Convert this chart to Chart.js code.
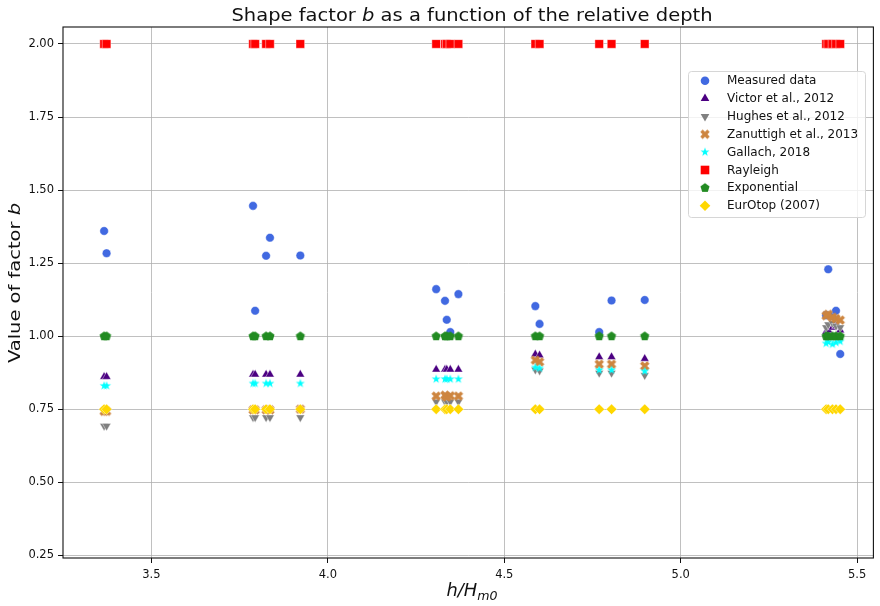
<!DOCTYPE html>
<html lang="en">
<head>
<meta charset="UTF-8">
<title>Shape factor b as a function of the relative depth</title>
<script src="https://cdn.jsdelivr.net/npm/chart.js"></script>
<style>
  html, body { margin: 0; padding: 0; background: #fff; }
  #wrap { position: relative; width: 880px; height: 606px; }
</style>
</head>
<body>
<div id="wrap"><canvas id="shapePlot"></canvas></div>
<script>
// relative depth h/Hm0 of each test
const relDepth = [3.366, 3.373, 3.788, 3.794, 3.825, 3.836, 3.922, 4.307, 4.332, 4.337, 4.347, 4.370,
                  4.588, 4.600, 4.769, 4.804, 4.898, 5.412, 5.418, 5.430, 5.440, 5.452];

// shape factor b per method, same order as relDepth
const measured  = [1.360, 1.284, 1.446, 1.087, 1.275, 1.337, 1.276, 1.161, 1.121, 1.056, 1.014, 1.144,
                   1.103, 1.042, 1.014, 1.122, 1.124, 1.072, 1.229, 1.070, 1.087, 0.939];
const victor    = [0.861, 0.861, 0.869, 0.869, 0.869, 0.869, 0.869, 0.886, 0.886, 0.886, 0.886, 0.886,
                   0.938, 0.935, 0.929, 0.929, 0.923, 1.015, 1.020, 1.030, 1.035, 1.020];
const hughes    = [0.693, 0.693, 0.722, 0.722, 0.722, 0.722, 0.722, 0.776, 0.776, 0.776, 0.776, 0.776,
                   0.885, 0.882, 0.874, 0.874, 0.866, 1.030, 1.040, 1.045, 1.035, 1.030];
const zanuttigh = [0.743, 0.743, 0.748, 0.748, 0.748, 0.748, 0.750, 0.795, 0.798, 0.792, 0.796, 0.795,
                   0.918, 0.912, 0.904, 0.904, 0.898, 1.070, 1.075, 1.065, 1.060, 1.055];
const gallach   = [0.830, 0.830, 0.838, 0.838, 0.838, 0.838, 0.838, 0.853, 0.853, 0.853, 0.853, 0.853,
                   0.893, 0.890, 0.884, 0.884, 0.880, 0.975, 0.980, 0.972, 0.978, 0.982];
const rayleigh  = [2.0, 2.0, 2.0, 2.0, 2.0, 2.0, 2.0, 2.0, 2.0, 2.0, 2.0, 2.0,
                   2.0, 2.0, 2.0, 2.0, 2.0, 2.0, 2.0, 2.0, 2.0, 2.0];
const exponential = [1.0, 1.0, 1.0, 1.0, 1.0, 1.0, 1.0, 1.0, 1.0, 1.0, 1.0, 1.0,
                     1.0, 1.0, 1.0, 1.0, 1.0, 1.0, 1.0, 1.0, 1.0, 1.0];
const eurotop   = [0.75, 0.75, 0.75, 0.75, 0.75, 0.75, 0.75, 0.75, 0.75, 0.75, 0.75, 0.75,
                   0.75, 0.75, 0.75, 0.75, 0.75, 0.75, 0.75, 0.75, 0.75, 0.75];

const seriesNames = ['Measured data', 'Victor et al., 2012', 'Hughes et al., 2012', 'Zanuttigh et al., 2013',
                     'Gallach, 2018', 'Rayleigh', 'Exponential', 'EurOtop (2007)'];
const seriesValues = [measured, victor, hughes, zanuttigh, gallach, rayleigh, exponential, eurotop];
const seriesColors = ['#4169e1', '#4b0082', '#808080', '#cd853f', '#00ffff', '#ff0000', '#228b22', '#ffd700'];

const xTickValues = [3.5, 4.0, 4.5, 5.0, 5.5];
const yTickValues = [0.25, 0.50, 0.75, 1.00, 1.25, 1.50, 1.75, 2.00];

// little canvases for the marker shapes Chart.js does not have (filled star, pentagon, X)
function shapeCanvas(size, color, pts) {
    const c = document.createElement('canvas');
    c.width = c.height = size;
    const g = c.getContext('2d');
    g.translate(size / 2, size / 2);
    g.fillStyle = color;
    g.beginPath();
    pts.forEach((p, i) => i ? g.lineTo(p[0], p[1]) : g.moveTo(p[0], p[1]));
    g.closePath();
    g.fill();
    return c;
}
function starPts(R) {
    const pts = [];
    for (let k = 0; k < 10; k++) {
        const a = (-90 + k * 36) * Math.PI / 180, r = k % 2 ? R * 0.382 : R;
        pts.push([r * Math.cos(a), r * Math.sin(a)]);
    }
    return pts;
}
function pentPts(R) {
    const pts = [];
    for (let k = 0; k < 5; k++) {
        const a = (-90 + k * 72) * Math.PI / 180;
        pts.push([R * Math.cos(a), R * Math.sin(a)]);
    }
    return pts;
}
function xPts(L, h) {
    const plus = [[-h, -L], [h, -L], [h, -h], [L, -h], [L, h], [h, h], [h, L], [-h, L], [-h, h], [-L, h], [-L, -h], [-h, -h]];
    const c = Math.SQRT1_2;
    return plus.map(p => [c * (p[0] - p[1]), c * (p[0] + p[1])]);
}

const markers = [
    { style: 'circle', r: 4.3 },
    { style: 'triangle', r: 5 },
    { style: 'triangle', r: 5, rot: 180 },
    { style: shapeCanvas(12, seriesColors[3], xPts(5.0, 1.7)), r: 5 },
    { style: shapeCanvas(12, seriesColors[4], starPts(4.7)), r: 5 },
    { style: 'rect', r: 6.1 },
    { style: shapeCanvas(12, seriesColors[6], pentPts(4.8)), r: 5 },
    { style: 'rectRot', r: 5.3 }
];

// matplotlib draws later series on top; Chart.js puts dataset 0 on top, so reverse
const datasets = seriesNames.map((name, i) => ({
    label: name,
    data: relDepth.map((x, j) => ({ x: x, y: seriesValues[i][j] })),
    backgroundColor: seriesColors[i],
    borderColor: 'rgba(255,255,255,0.85)',
    pointStyle: markers[i].style,
    pointRadius: markers[i].r,
    pointHoverRadius: markers[i].r,
    pointRotation: markers[i].rot || 0,
    pointBorderWidth: typeof markers[i].style === 'string' ? 0.5 : 0
})).reverse();

function drawRuns(ctx, runs, cx, baseline, targetWidth) {
    let w = 0;
    runs.forEach(r => { ctx.font = r.font; r.w = ctx.measureText(r.text).width; w += r.w; });
    const sx = targetWidth ? targetWidth / w : 1;
    ctx.save();
    ctx.translate(cx, baseline);
    ctx.scale(sx, 1);
    let x = -w / 2;
    ctx.textAlign = 'left';
    ctx.textBaseline = 'alphabetic';
    runs.forEach(r => { ctx.font = r.font; ctx.fillText(r.text, x, r.dy || 0); x += r.w; });
    ctx.restore();
}

const decor = {
    id: 'decor',
    afterDraw(chart) {
        const ctx = chart.ctx, a = chart.chartArea;
        ctx.save();
        // frame
        ctx.strokeStyle = '#111';
        ctx.lineWidth = 1.1;
        ctx.strokeRect(a.left, a.top, a.right - a.left, a.bottom - a.top);

        ctx.fillStyle = '#111';
        const ff = '"DejaVu Sans", sans-serif';
        drawRuns(ctx, [
            { text: 'Shape factor ', font: '17px ' + ff },
            { text: 'b', font: 'italic 17px ' + ff },
            { text: ' as a function of the relative depth', font: '17px ' + ff }
        ], 472, 21, 481);

        drawRuns(ctx, [
            { text: 'h/H', font: 'italic 17px ' + ff },
            { text: 'm0', font: 'italic 12px ' + ff, dy: 4 }
        ], 472, 596, 51);

        ctx.save();
        ctx.translate(20, 283);
        ctx.rotate(-Math.PI / 2);
        drawRuns(ctx, [
            { text: 'Value of factor ', font: '16px ' + ff },
            { text: 'b', font: 'italic 16px ' + ff }
        ], 0, 0, 160);
        ctx.restore();

        // legend box
        const lx = 688.5, ly = 71.5, lw = 177, lh = 146, rr = 3;
        ctx.beginPath();
        ctx.moveTo(lx + rr, ly);
        ctx.arcTo(lx + lw, ly, lx + lw, ly + lh, rr);
        ctx.arcTo(lx + lw, ly + lh, lx, ly + lh, rr);
        ctx.arcTo(lx, ly + lh, lx, ly, rr);
        ctx.arcTo(lx, ly, lx + lw, ly, rr);
        ctx.closePath();
        ctx.fillStyle = 'rgba(255,255,255,0.8)';
        ctx.fill();
        ctx.strokeStyle = '#d6d6d6';
        ctx.lineWidth = 1;
        ctx.stroke();

        seriesNames.forEach((name, i) => {
            const y = 80.7 + i * 17.86;
            ctx.fillStyle = seriesColors[i];
            Chart.helpers.drawPoint(ctx, {
                pointStyle: markers[i].style, radius: markers[i].r,
                rotation: markers[i].rot || 0, borderWidth: 0
            }, 705, y);
            ctx.fillStyle = '#111';
            ctx.font = '12px ' + ff;
            ctx.textAlign = 'left';
            ctx.textBaseline = 'middle';
            ctx.fillText(name, 727, y + 0.5);
        });
        ctx.restore();
    }
};

new Chart(document.getElementById('shapePlot'), {
    type: 'scatter',
    data: { datasets: datasets },
    options: {
        responsive: true,
        maintainAspectRatio: false,
        animation: false,
        events: [],
        layout: { padding: { left: 0, right: 2, top: 27, bottom: 0 } },
        plugins: { legend: { display: false }, title: { display: false }, tooltip: { enabled: false } },
        scales: {
            x: {
                type: 'linear',
                min: 3.2495,
                max: 5.546,
                afterBuildTicks: s => { s.ticks = xTickValues.map(v => ({ value: v })); },
                afterFit: s => { s.height = 48; },
                ticks: {
                    callback: v => v.toFixed(1),
                    color: '#111',
                    font: { family: '"DejaVu Sans", sans-serif', size: 11.5 },
                    padding: 5,
                    maxRotation: 0
                },
                grid: { color: '#b0b0b0', lineWidth: 0.8, tickColor: '#111', tickLength: 5, tickWidth: 1 },
                border: { display: false }
            },
            y: {
                type: 'linear',
                min: 0.241,
                max: 2.058,
                afterBuildTicks: s => { s.ticks = yTickValues.map(v => ({ value: v })); },
                afterFit: s => { s.width = 63; },
                ticks: {
                    callback: v => v.toFixed(2),
                    color: '#111',
                    font: { family: '"DejaVu Sans", sans-serif', size: 11.5 },
                    padding: 4
                },
                grid: { color: '#b0b0b0', lineWidth: 0.8, tickColor: '#111', tickLength: 5, tickWidth: 1 },
                border: { display: false }
            }
        }
    },
    plugins: [decor]
});
</script>
</body>
</html>
